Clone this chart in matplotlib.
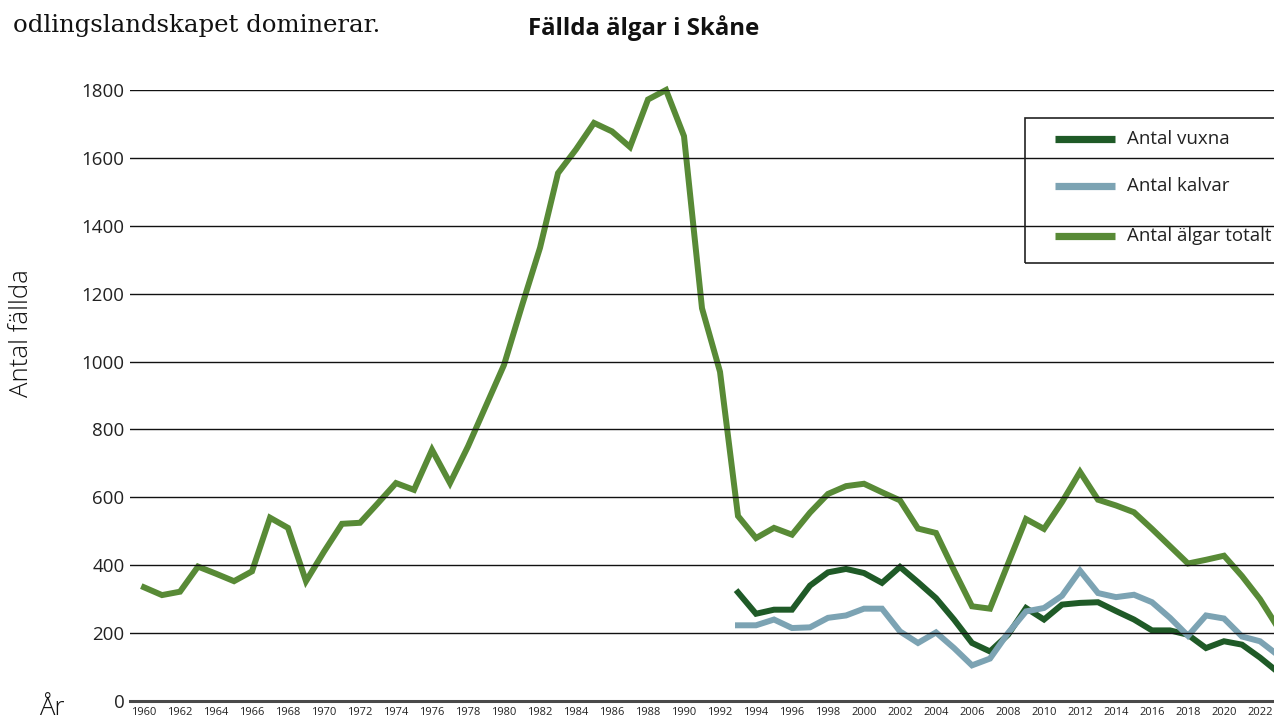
import matplotlib
matplotlib.use("Agg")
import matplotlib.pyplot as plt
from matplotlib.lines import Line2D
from matplotlib.patches import Rectangle

plt.rcParams['font.family'] = ['Open Sans', 'DejaVu Sans']

# ---- data ----
years_total = list(range(1960, 2024))
total = [335, 312, 322, 396, 375, 353, 382, 540, 510, 353,
         440, 522, 525, 583, 642, 622, 740, 642, 750, 870,
         990, 1165, 1335, 1555, 1625, 1703, 1678, 1632, 1772, 1800,
         1664, 1157, 970, 545, 480, 510, 490, 555, 610, 633,
         640, 615, 591, 508, 495, 385, 279, 272, 404, 536,
         507, 586, 675, 593, 576, 556, 507, 456, 405, 416,
         428, 368, 300, 216]
years_sub = list(range(1993, 2024))
vuxna = [320, 257, 269, 269, 340, 379, 389, 377, 348, 395,
         350, 303, 240, 171, 146, 195, 274, 240, 284, 289,
         291, 265, 240, 208, 208, 195, 156, 176, 166, 128, 85]
kalvar = [223, 223, 240, 215, 217, 245, 252, 272, 272, 205,
          171, 202, 156, 105, 125, 200, 264, 274, 310, 384,
          318, 306, 313, 291, 245, 192, 252, 243, 190, 176, 135]
xtick_years = list(range(1960, 2023, 2))
yticks = [0, 200, 400, 600, 800, 1000, 1200, 1400, 1600, 1800]

labels = ["Antal vuxna", "Antal kalvar", "Antal älgar totalt"]
colors = ["#1f5a27", "#7ca3b3", "#588a36"]

W, H = 1274, 722
fig = plt.figure(figsize=(W / 100, H / 100), dpi=100)

def fx(px):
    return px / W

def fy(py):
    return 1 - py / H

ax = fig.add_axes([fx(130), fy(701), fx(1274) - fx(130), fy(90) - fy(701)])
ax.set_xlim(1959.222, 2022.778)
ax.set_ylim(0, 1800)
for s in ax.spines.values():
    s.set_visible(False)

lw = 4.3
ax.plot(years_total, total, color=colors[2], lw=lw, clip_on=False, zorder=2,
        solid_joinstyle='miter')
ax.plot(years_sub, vuxna, color=colors[0], lw=lw, clip_on=False, zorder=2.1,
        solid_joinstyle='miter')
ax.plot(years_sub, kalvar, color=colors[1], lw=lw, clip_on=False, zorder=2.2,
        solid_joinstyle='miter')

for v in yticks[1:]:
    ax.axhline(v, color="#111111", lw=1.0, zorder=3)
ax.axhline(0, color="#4a4a4a", lw=2.2, zorder=3, clip_on=False)

ax.set_yticks(yticks)
ax.set_yticklabels([str(v) for v in yticks], fontsize=13.5, color="#222222")
ax.tick_params(axis='y', length=0, pad=4)
ax.set_xticks(xtick_years)
ax.set_xticklabels([str(y) for y in xtick_years], fontsize=8.0, color="#222222")
ax.tick_params(axis='x', length=0, pad=4.5)

# texts
fig.text(fx(644), fy(28), "Fällda älgar i Skåne", fontsize=17.3, fontweight='bold',
         ha='center', va='center', color="#111111")
fig.text(fx(13), fy(32), "odlingslandskapet dominerar.", fontsize=17.6,
         family='DejaVu Serif', ha='left', va='baseline', color="#111111")
fig.text(fx(22), fy(333), "Antal fällda", fontsize=18.5, rotation=90,
         ha='center', va='center', color="#111111", fontweight='light')
fig.text(fx(52), fy(721), "År", fontsize=18.5, ha='center', va='bottom',
         color="#111111", fontweight='light')

# legend box
fig.patches.append(Rectangle((fx(1025), fy(263)), fx(1300) - fx(1025), fy(118) - fy(263),
                             transform=fig.transFigure, fill=False, ec="#222222", lw=1.2))
for lab, col, ly in zip(labels, colors, [139, 186, 236]):
    fig.lines.append(Line2D([fx(1055), fx(1115)], [fy(ly), fy(ly)], transform=fig.transFigure,
                            color=col, lw=5.2, solid_capstyle='butt'))
    fig.text(fx(1127), fy(ly), lab, fontsize=13.5, ha='left', va='center', color="#222222")

fig.savefig("out.png", dpi=100)
